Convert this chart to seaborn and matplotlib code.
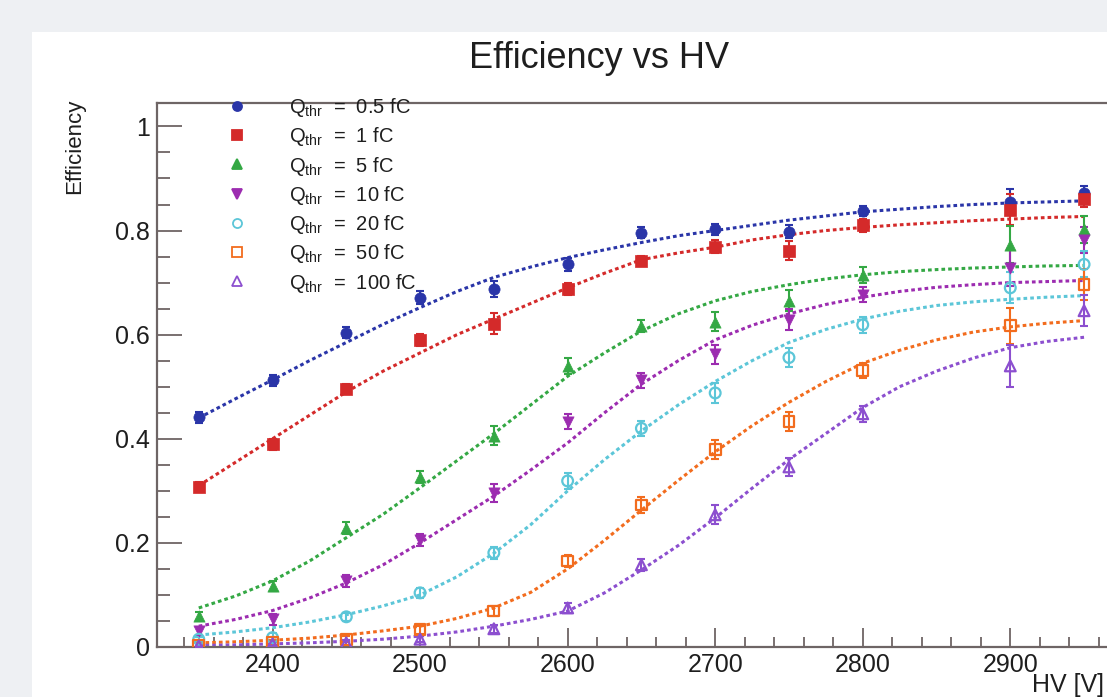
import matplotlib
matplotlib.use("Agg")
import matplotlib.pyplot as plt
from matplotlib.lines import Line2D
from matplotlib.patches import Rectangle
from matplotlib.ticker import MultipleLocator
import seaborn as sns
import pandas as pd

sns.set_style("white")
plt.rcParams['font.family'] = ['Liberation Sans', 'DejaVu Sans']
plt.rcParams['mathtext.fontset'] = 'custom'
plt.rcParams['mathtext.rm'] = 'Liberation Sans'
plt.rcParams['mathtext.it'] = 'Liberation Sans'

# ---------------- data ----------------
hv = [2350, 2400, 2450, 2500, 2550, 2600, 2650, 2700, 2750, 2800, 2900, 2950]

eff_05 = [0.441, 0.512, 0.604, 0.671, 0.688, 0.735, 0.796, 0.802, 0.798, 0.838, 0.854, 0.873]
eff_1 = [0.307, 0.389, 0.496, 0.590, 0.621, 0.688, 0.742, 0.769, 0.761, 0.810, 0.840, 0.860]
eff_5 = [0.060, 0.117, 0.229, 0.327, 0.406, 0.540, 0.617, 0.625, 0.665, 0.715, 0.773, 0.802]
eff_10 = [0.030, 0.053, 0.127, 0.206, 0.296, 0.433, 0.512, 0.562, 0.629, 0.677, 0.729, 0.781]
eff_20 = [0.015, 0.018, 0.058, 0.104, 0.181, 0.319, 0.420, 0.488, 0.556, 0.619, 0.690, 0.735]
eff_50 = [0.004, 0.008, 0.015, 0.033, 0.069, 0.165, 0.273, 0.379, 0.433, 0.531, 0.617, 0.696]
eff_100 = [0.002, 0.006, 0.008, 0.015, 0.035, 0.075, 0.158, 0.254, 0.346, 0.448, 0.540, 0.646]

err_05 = [0.010, 0.010, 0.010, 0.012, 0.015, 0.012, 0.010, 0.010, 0.012, 0.010, 0.025, 0.012]
err_1 = [0.010, 0.010, 0.010, 0.012, 0.020, 0.012, 0.010, 0.012, 0.018, 0.012, 0.030, 0.015]
err_5 = [0.008, 0.010, 0.012, 0.012, 0.018, 0.015, 0.012, 0.018, 0.020, 0.015, 0.035, 0.025]
err_10 = [0.008, 0.010, 0.012, 0.012, 0.018, 0.015, 0.015, 0.018, 0.020, 0.015, 0.035, 0.025]
err_20 = [0.005, 0.008, 0.008, 0.010, 0.012, 0.015, 0.015, 0.020, 0.018, 0.015, 0.030, 0.025]
err_50 = [0.003, 0.005, 0.006, 0.008, 0.010, 0.012, 0.015, 0.018, 0.018, 0.015, 0.035, 0.030]
err_100 = [0.002, 0.004, 0.005, 0.006, 0.008, 0.010, 0.012, 0.018, 0.018, 0.015, 0.040, 0.030]

hv_fit = [2350, 2375, 2400, 2425, 2450, 2475, 2500, 2525, 2550, 2575, 2600, 2625, 2650,
          2675, 2700, 2725, 2750, 2775, 2800, 2825, 2850, 2875, 2900, 2925, 2950]
fit_05 = [0.440, 0.477, 0.513, 0.550, 0.585, 0.620, 0.652, 0.683, 0.710, 0.730, 0.748, 0.763, 0.777,
          0.790, 0.800, 0.810, 0.820, 0.828, 0.836, 0.841, 0.846, 0.850, 0.853, 0.855, 0.857]
fit_1 = [0.310, 0.355, 0.400, 0.445, 0.490, 0.530, 0.565, 0.600, 0.630, 0.660, 0.690, 0.718, 0.744,
         0.757, 0.768, 0.782, 0.792, 0.800, 0.806, 0.811, 0.815, 0.819, 0.822, 0.825, 0.827]
fit_5 = [0.075, 0.098, 0.127, 0.165, 0.210, 0.255, 0.306, 0.358, 0.410, 0.465, 0.520, 0.565, 0.607,
         0.640, 0.665, 0.683, 0.696, 0.707, 0.715, 0.721, 0.725, 0.728, 0.730, 0.732, 0.733]
fit_10 = [0.040, 0.053, 0.070, 0.094, 0.123, 0.158, 0.200, 0.245, 0.290, 0.340, 0.392, 0.450, 0.505,
          0.550, 0.590, 0.618, 0.640, 0.658, 0.672, 0.683, 0.691, 0.696, 0.700, 0.702, 0.704]
fit_20 = [0.023, 0.029, 0.037, 0.048, 0.062, 0.079, 0.100, 0.135, 0.180, 0.235, 0.300, 0.360, 0.415,
          0.465, 0.510, 0.550, 0.585, 0.610, 0.630, 0.645, 0.656, 0.663, 0.668, 0.672, 0.675]
fit_50 = [0.008, 0.010, 0.013, 0.017, 0.023, 0.031, 0.040, 0.055, 0.075, 0.105, 0.150, 0.205, 0.263,
          0.320, 0.375, 0.425, 0.470, 0.510, 0.545, 0.570, 0.590, 0.605, 0.615, 0.622, 0.627]
fit_100 = [0.003, 0.004, 0.006, 0.008, 0.011, 0.015, 0.021, 0.029, 0.040, 0.053, 0.069, 0.104, 0.148,
           0.195, 0.248, 0.305, 0.360, 0.410, 0.460, 0.500, 0.530, 0.555, 0.575, 0.587, 0.595]

labels = [r'Q$_{thr}$  =  0.5 fC', r'Q$_{thr}$  =  1 fC', r'Q$_{thr}$  =  5 fC',
          r'Q$_{thr}$  =  10 fC', r'Q$_{thr}$  =  20 fC', r'Q$_{thr}$  =  50 fC',
          r'Q$_{thr}$  =  100 fC']

# ---------------- styles ----------------
colors = ['#2a35a8', '#d42a2a', '#34a844', '#9c2cb0', '#5cc6d8', '#f26c1e', '#8c4fcf']
markers = ['o', 's', '^', 'v', 'o', 's', '^']
filled = [True, True, True, True, False, False, False]

effs = [eff_05, eff_1, eff_5, eff_10, eff_20, eff_50, eff_100]
errs = [err_05, err_1, err_5, err_10, err_20, err_50, err_100]
fits = [fit_05, fit_1, fit_5, fit_10, fit_20, fit_50, fit_100]

W, H = 1107, 697
fig = plt.figure(figsize=(W / 100, H / 100), dpi=100)
fig.patch.set_facecolor('#eef0f3')
fig.patches.append(Rectangle((32 / W, 0), 1, (H - 32) / H, transform=fig.transFigure,
                             facecolor='white', edgecolor='none', zorder=-10))

left, right, top, bottom = 157, 1118, 103, 647
ax = fig.add_axes([left / W, (H - bottom) / H, (right - left) / W, (bottom - top) / H])
ax.set_facecolor('none')
ax.set_zorder(5)

handles = []
for i in range(7):
    df_fit = pd.DataFrame({'hv': hv_fit, 'eff': fits[i]})
    sns.lineplot(data=df_fit, x='hv', y='eff', ax=ax, color=colors[i], lw=2.2,
                 linestyle=(0, (1.2, 1.0)), zorder=2)
    ax.errorbar(hv, effs[i], yerr=errs[i], fmt='none', ecolor=colors[i], elinewidth=1.5,
                capsize=3, capthick=1.5, zorder=3)
    df_pt = pd.DataFrame({'hv': hv, 'eff': effs[i]})
    if filled[i]:
        sns.scatterplot(data=df_pt, x='hv', y='eff', ax=ax, marker=markers[i], s=65,
                        color=colors[i], edgecolor=colors[i], linewidth=0.5, zorder=4)
    else:
        sns.scatterplot(data=df_pt, x='hv', y='eff', ax=ax, marker=markers[i], s=60,
                        facecolor='none', edgecolor=colors[i], linewidth=1.6, zorder=4)
    handles.append(Line2D([], [], linestyle='none', marker=markers[i], markersize=6.5,
                          color=colors[i], markerfacecolor=colors[i] if filled[i] else 'none',
                          markeredgewidth=1.3))

ax.set_xlim(2321.7, 2973)
ax.set_ylim(0, 1.045)
ax.set_xlabel('')
ax.set_ylabel('')

ax.xaxis.set_major_locator(MultipleLocator(100))
ax.xaxis.set_minor_locator(MultipleLocator(20))
ax.yaxis.set_major_locator(MultipleLocator(0.2))
ax.yaxis.set_minor_locator(MultipleLocator(0.05))
ax.set_yticks([0, 0.2, 0.4, 0.6, 0.8, 1.0])
ax.set_yticklabels(['0', '0.2', '0.4', '0.6', '0.8', '1'])

tick_col = '#6e6565'
ax.tick_params(axis='both', which='both', bottom=True, left=True, top=False, right=False)
ax.tick_params(axis='x', which='major', direction='in', length=14, width=1.3, color=tick_col,
               labelsize=18, labelcolor='#1e1e1e', pad=4)
ax.tick_params(axis='x', which='minor', direction='in', length=7, width=1.3, color=tick_col)
ax.tick_params(axis='y', which='major', direction='in', length=18, width=1.3, color=tick_col,
               labelsize=18, labelcolor='#1e1e1e', pad=5)
ax.tick_params(axis='y', which='minor', direction='in', length=9, width=1.3, color=tick_col)
for sp in ax.spines.values():
    sp.set_color(tick_col)
    sp.set_linewidth(1.6)
    sp.set_visible(True)

leg = ax.legend(handles, labels, loc='upper left', bbox_to_anchor=(219 / W, 1 - 88 / H),
                bbox_transform=fig.transFigure, frameon=False, fontsize=14.5,
                handlelength=1.0, handletextpad=2.1, labelspacing=0.31, borderaxespad=0)
for t in leg.get_texts():
    t.set_color('#1e1e1e')

fig.text(599 / W, 1 - 58 / H, 'Efficiency vs HV', ha='center', va='center', fontsize=26,
         color='#1e1e1e')
fig.text(75 / W, 1 - 99 / H, 'Efficiency', rotation=90, ha='center', va='top', fontsize=16,
         color='#1e1e1e')
fig.text(1104 / W, 1 - 692 / H, 'HV [V]', ha='right', va='baseline', fontsize=18,
         color='#1e1e1e')

fig.savefig('out.png', dpi=100, facecolor=fig.get_facecolor())
